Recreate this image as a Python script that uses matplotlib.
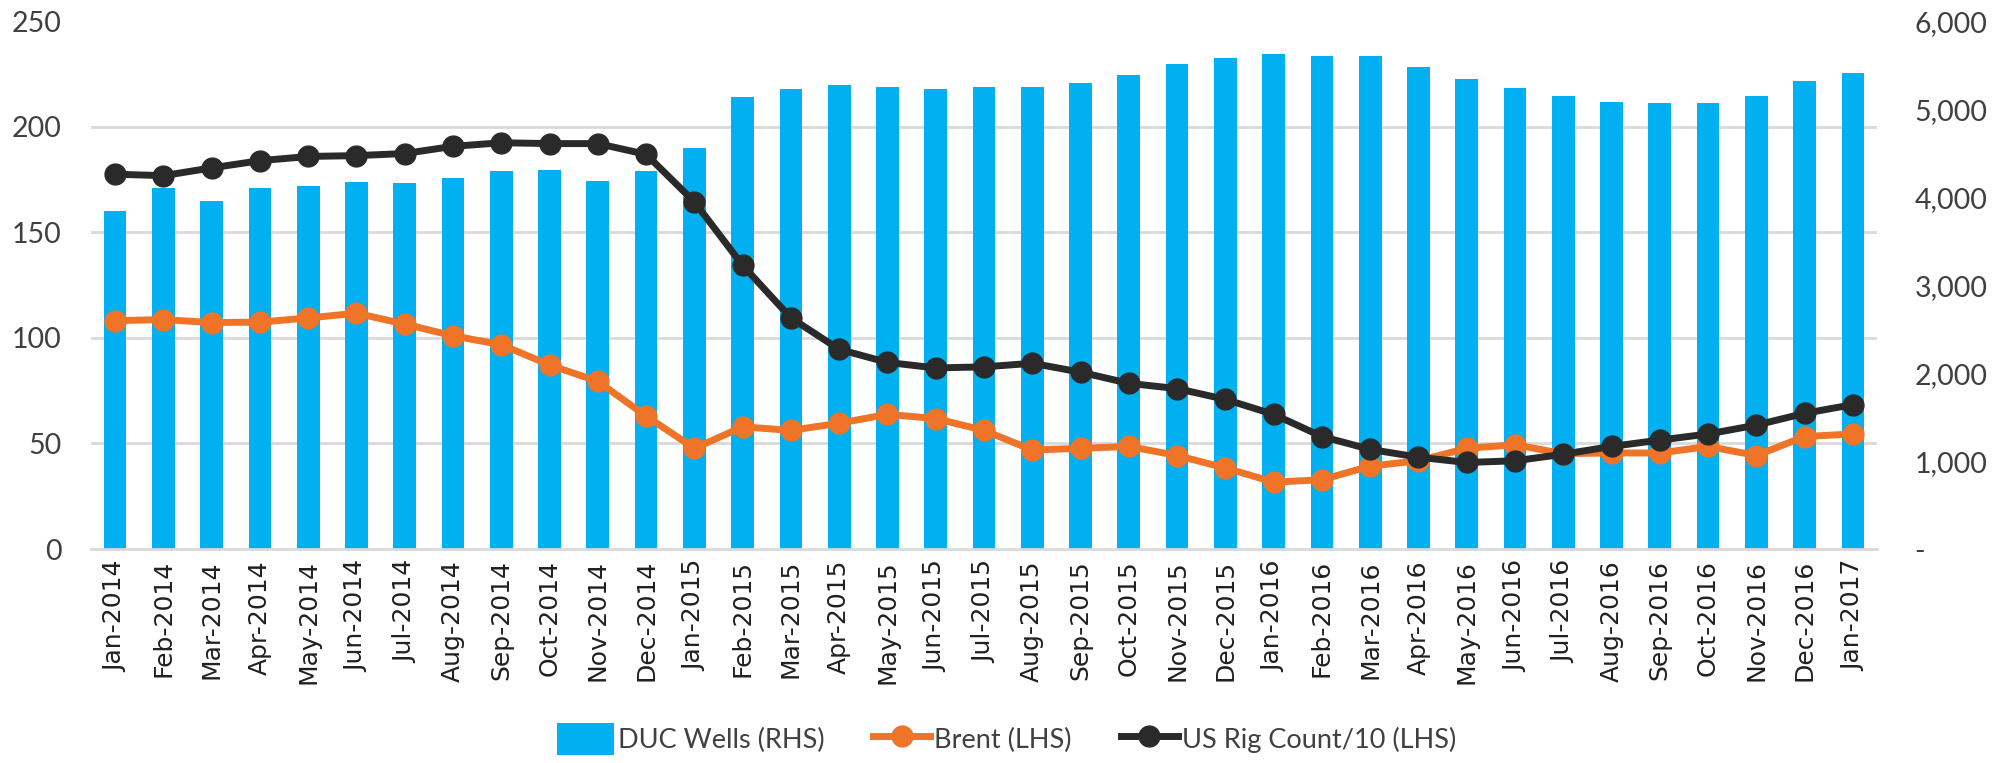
import matplotlib
matplotlib.use("Agg")
import matplotlib.pyplot as plt
from matplotlib.ticker import MultipleLocator, FuncFormatter
from matplotlib.patches import Patch
from matplotlib.lines import Line2D
from matplotlib import font_manager

months = ["Jan-2014", "Feb-2014", "Mar-2014", "Apr-2014", "May-2014", "Jun-2014",
          "Jul-2014", "Aug-2014", "Sep-2014", "Oct-2014", "Nov-2014", "Dec-2014",
          "Jan-2015", "Feb-2015", "Mar-2015", "Apr-2015", "May-2015", "Jun-2015",
          "Jul-2015", "Aug-2015", "Sep-2015", "Oct-2015", "Nov-2015", "Dec-2015",
          "Jan-2016", "Feb-2016", "Mar-2016", "Apr-2016", "May-2016", "Jun-2016",
          "Jul-2016", "Aug-2016", "Sep-2016", "Oct-2016", "Nov-2016", "Dec-2016",
          "Jan-2017"]

duc_wells = [3840, 4100, 3960, 4100, 4130, 4170, 4160, 4220, 4295, 4310, 4190, 4300,
             4560, 5145, 5230, 5280, 5255, 5230, 5250, 5250, 5297, 5394, 5512, 5581,
             5634, 5601, 5601, 5483, 5341, 5240, 5154, 5081, 5073, 5077, 5146, 5325,
             5418]

brent = [108.2, 108.7, 107.3, 107.5, 109.5, 111.7, 106.6, 101.0, 96.8, 87.2, 79.4, 63.0,
         47.7, 57.9, 56.2, 59.6, 63.8, 61.8, 56.2, 46.9, 47.7, 48.6, 44.3, 38.4,
         31.7, 32.8, 39.3, 41.8, 47.7, 49.4, 45.2, 45.5, 45.5, 48.6, 44.3, 53.3,
         54.5]

rig_count_10 = [177.6, 176.9, 180.6, 184.0, 186.0, 186.4, 187.4, 190.8, 192.5, 192.1, 192.1, 187.0,
                164.5, 134.4, 109.5, 94.6, 88.4, 85.8, 86.3, 88.0, 83.8, 78.5, 76.0, 70.9,
                63.8, 53.3, 47.2, 43.5, 41.0, 41.8, 44.9, 48.6, 51.6, 54.5, 58.7, 64.3,
                68.4]

series_labels = ["DUC Wells (RHS)", "Brent (LHS)", "US Rig Count/10 (LHS)"]

BLUE = "#00B0F0"
ORANGE = "#F07427"
DARK = "#2A2A2A"
GRID = "#D9D9D9"
TXT = "#404040"

avail = {f.name for f in font_manager.fontManager.ttflist}
num_font = "Liberation Sans Narrow" if "Liberation Sans Narrow" in avail else "Lato"

fig = plt.figure(figsize=(20.05, 7.63), dpi=100)
ax = fig.add_axes([91/2005, 1-549/763, (1877-91)/2005, (549-21.4)/763])

x = list(range(len(months)))
ax.bar(x, duc_wells, width=0.47, color=BLUE, zorder=2)
ax.set_xlim(-0.5, len(months) - 0.5)
ax.set_ylim(0, 6000)

ax2 = ax.twinx()
ax2.set_zorder(ax.get_zorder() + 1)
ax2.patch.set_visible(False)
ax2.plot(x, brent, color=ORANGE, lw=5, marker="o", markersize=15, zorder=3)
ax2.plot(x, rig_count_10, color=DARK, lw=5, marker="o", markersize=15, zorder=4)
ax2.set_ylim(0, 250)
ax2.set_xlim(-0.5, len(months) - 0.5)

# right axis (DUC wells)
ax.yaxis.tick_right()
ax.yaxis.set_major_locator(MultipleLocator(1000))
ax.yaxis.set_major_formatter(FuncFormatter(lambda v, p: "-" if v == 0 else f"{int(v):,}"))
ax.yaxis.set_minor_locator(MultipleLocator(1200))
ax.grid(which="minor", axis="y", color=GRID, lw=2, zorder=0)
ax.grid(which="major", axis="y", visible=False)
ax.set_axisbelow(True)
ax.tick_params(axis="y", which="both", length=0, left=False, labelleft=False,
               right=True, labelright=True, labelsize=20.5, labelcolor=TXT, pad=27)
for t in ax.get_yticklabels():
    t.set_fontfamily(num_font)
ax.set_xticks(x)
ax.set_xticklabels(months, rotation=90, fontsize=18, color="#202020")
ax.tick_params(axis="x", length=0, pad=8)
for s in ["top", "right", "left"]:
    ax.spines[s].set_visible(False)
ax.spines["bottom"].set_color(GRID)
ax.spines["bottom"].set_linewidth(2)

# left axis (lines)
ax2.yaxis.tick_left()
ax2.yaxis.set_major_locator(MultipleLocator(50))
ax2.tick_params(axis="y", length=0, left=True, labelleft=True, right=False, labelright=False,
                labelsize=20.5, labelcolor=TXT, pad=21)
for t in ax2.get_yticklabels():
    t.set_fontfamily(num_font)
for s in ax2.spines.values():
    s.set_visible(False)

handles = [Patch(facecolor=BLUE, edgecolor="none"),
           Line2D([], [], color=ORANGE, lw=5, marker="o", markersize=15),
           Line2D([], [], color=DARK, lw=5, marker="o", markersize=15)]
leg = fig.legend(handles, series_labels, loc="center", bbox_to_anchor=(0.502, 24/763),
                 ncol=3, frameon=False, prop={"family": num_font, "size": 19.5},
                 handlelength=2.1, handleheight=1.4, handletextpad=0.15, columnspacing=1.8,
                 borderaxespad=0, borderpad=0)
for t in leg.get_texts():
    t.set_color(TXT)

fig.savefig("out.png", dpi=100)
